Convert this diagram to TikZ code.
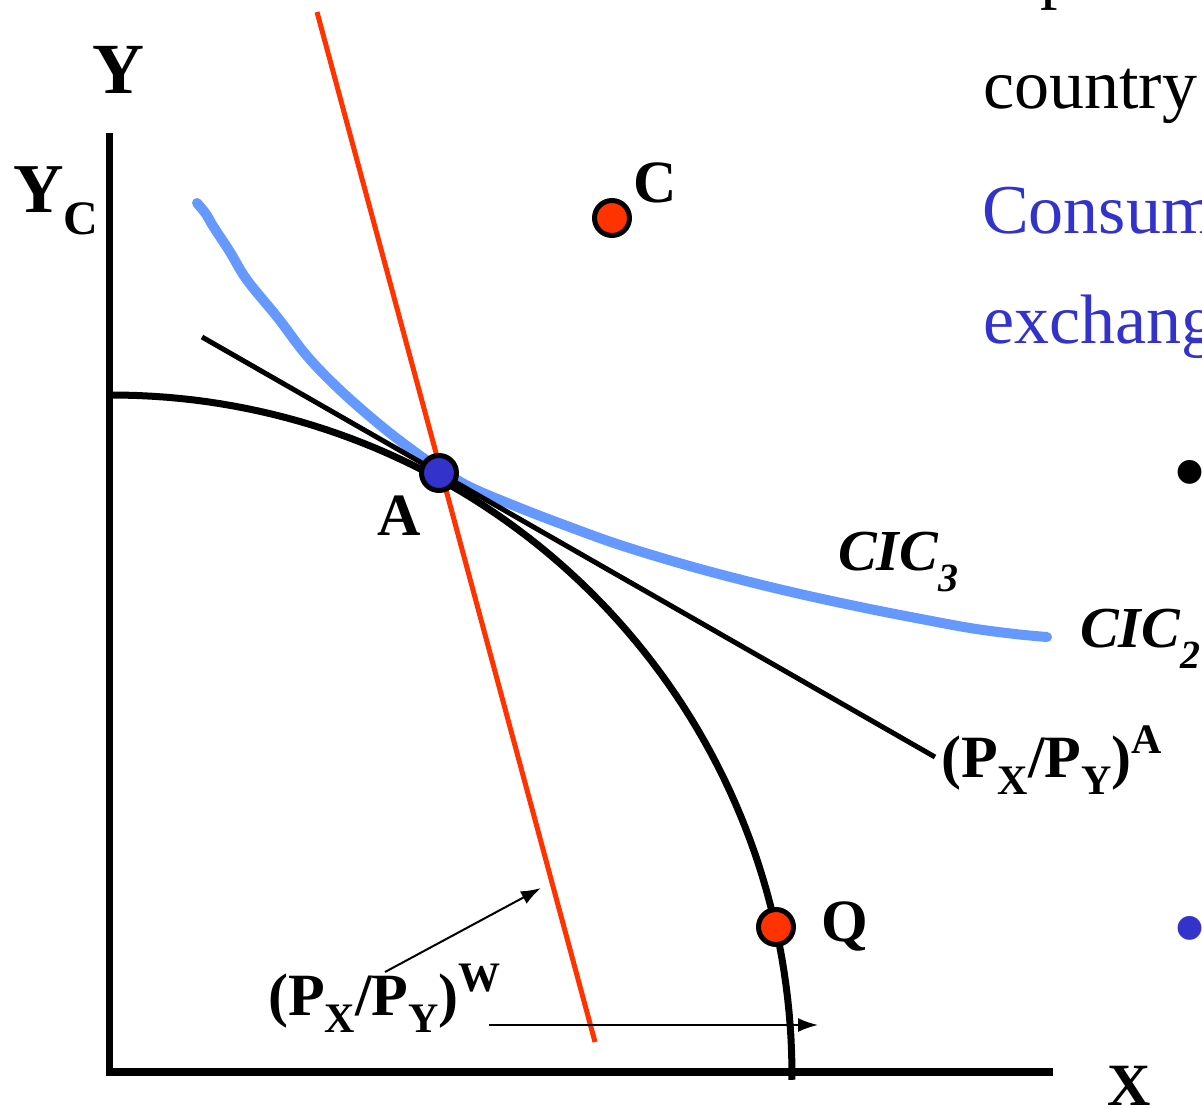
\documentclass[tikz,border=0pt]{standalone}
\usepackage{fontspec}
\setmainfont{Liberation Serif}
\usetikzlibrary{arrows.meta}
\definecolor{cicblue}{HTML}{6699FF}
\definecolor{ptblue}{HTML}{3333CC}
\definecolor{ptred}{HTML}{FF3300}
\newcommand\fsz[1]{\fontsize{#1}{#1}\selectfont}
\newcommand\lsub[2]{\raisebox{-#1pt}{\fsz{42}#2}}
\newcommand\lsup[2]{\raisebox{#1pt}{\fsz{42}#2}}
\tikzset{
  lbl/.style={inner sep=0pt, anchor=base west, font=\fsz{60}\bfseries},
  cic/.style={inner sep=0pt, anchor=base west, font=\fsz{58}\bfseries\itshape},
  body/.style={inner sep=0pt, anchor=base west, font=\fsz{70}},
  axis/.style={line width=7.5pt},
  ppf/.style={line width=7pt},
  tang/.style={line width=5pt},
  world/.style={line width=5pt, ptred},
  indiff/.style={line width=10pt, cicblue, line cap=round, line join=round},
  dot/.style={circle, draw=black, line width=5pt, minimum size=35pt, inner sep=0pt},
  pointer/.style={line width=2pt, -{Latex[length=20pt,width=14pt]}},
  bul/.style={inner sep=0pt, font=\fsz{100}}
}
\begin{document}
\begin{tikzpicture}[x=1pt,y=-1pt]
\useasboundingbox (0,0) rectangle (1202,1108);
\clip (0,0) rectangle (1202,1108);

% axes
\coordinate (ytop) at (109.5,133);
\coordinate (ybot) at (109.5,1076);
\coordinate (xstart) at (106,1072);
\coordinate (xend) at (1053,1072);
\draw[axis] (ytop) -- (ybot);
\draw[axis] (xstart) -- (xend);

% CIC curve
\draw[indiff] plot[smooth, tension=0.6] coordinates {
 (197,203) (206,214) (213,226) (230,252) (247,280) (278,318) (307,356)
 (340,390) (380,425) (415,452) (440,469) (470,487) (520,508) (567,526)
 (620,545) (686,565) (750,582) (809,596) (870,609) (916,618) (970,628)
 (1015,634) (1047,637)};

% PPF
\draw[ppf] plot[domain=90:-0.4, samples=80] ({112+680*cos(\x)},{1075-680*sin(\x)});

% tangent at autarky
\coordinate (ta1) at (202,337);
\coordinate (ta2) at (935,757);
\draw[tang] (ta1) -- (ta2);

% world price line
\coordinate (w1) at (317,12);
\coordinate (w2) at (595,1042);
\draw[world] (w1) -- (w2);

% points
\node[dot, fill=ptblue] (A) at (439,473) {};
\node[dot, fill=ptred] (C) at (612,218) {};
\node[dot, fill=ptred] (Q) at (776,927) {};

% labels
\node[lbl, font=\fsz{72}\bfseries, anchor=base] (ylab) at (118,93) {Y};
\node[lbl, font=\fsz{70}\bfseries] (yc) at (13,212) {Y\lsub{22}{\fsz{48}C}};
\node[lbl] (xlab) at (1107,1105) {X};
\node[lbl] (alab) at (377,535) {A};
\node[lbl] (clab) at (633,202) {C};
\node[lbl] (qlab) at (821,941) {Q};

\node[cic] (cic3) at (838,570) {CIC\lsub{21}{\fsz{40}3}};
\node[cic] (cic2) at (1080,647) {CIC\lsub{21}{\fsz{40}2}};

\node[lbl] (pa) at (941,777) {(P\lsub{17}{X}/P\lsub{17}{Y})\lsup{24}{A}};
\node[lbl] (pw) at (268,1015) {(P\lsub{17}{X}/P\lsub{17}{Y})\lsup{24}{W}};

% arrows
\coordinate (ar1s) at (385,972);
\coordinate (ar1e) at (541,888);
\draw[pointer] (ar1s) -- (ar1e);
\coordinate (ar2s) at (489,1025);
\coordinate (ar2e) at (818,1025);
\draw[pointer] (ar2s) -- (ar2e);

% right-hand text (cut off)
\node[body] (t0) at (1040,-4) {p};
\node[body] (t1) at (983,108) {country};
\node[body, text=ptblue] (t2) at (982,233) {Consum};
\node[body, text=ptblue] (t3) at (983,343) {exchang};
\node[bul] (b1) at (1190,483) {\textbullet};
\node[bul, text=ptblue] (b2) at (1190,939) {\textbullet};
\end{tikzpicture}
\end{document}
